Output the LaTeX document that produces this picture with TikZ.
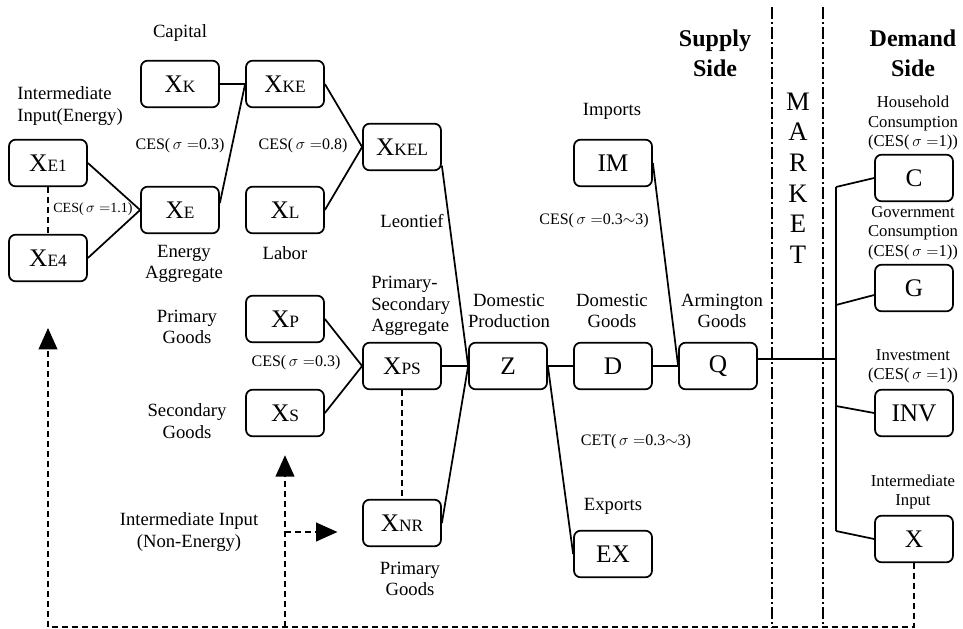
\documentclass[tikz,border=0pt]{standalone}
\usepackage{fontspec}
\setmainfont{Liberation Serif}
\usetikzlibrary{arrows.meta}
\newcommand{\vx}[1]{X{\fontsize{13}{13}\selectfont #1}}

\begin{document}
\begin{tikzpicture}[x=0.75pt, y=-0.75pt, line width=1.3pt,
  box/.style={draw, rounded corners=5pt, minimum width=58.5pt, minimum height=35pt, inner sep=0pt, font=\fontsize{19}{19}\selectfont},
  lab/.style={align=center, font=\fontsize{14}{16}\selectfont},
  ces/.style={align=center, font=\fontsize{12}{14}\selectfont},
  dem/.style={align=center, font=\fontsize{12.5}{14.5}\selectfont},
  side/.style={align=center, font=\bfseries\fontsize{18}{22.5}\selectfont},
  fb/.style={dash pattern=on 4.5pt off 3pt, line width=1.3pt},
  tip/.style={-{Triangle[length=16pt,width=14pt]}},
  sep/.style={line width=1pt, dash pattern=on 9pt off 2.5pt on 1pt off 2.5pt}]
\useasboundingbox (0,0) rectangle (963,628);

% 供给侧的方框
\node[box] (xe1) at (48,163) {\vx{E1}};
\node[box] (xe4) at (48,258) {\vx{E4}};
\node[box] (xk) at (180,84) {\vx{K}};
\node[box] (xe) at (180,210) {\vx{E}};
\node[box] (xke) at (285,84) {\vx{KE}};
\node[box] (xl) at (285,210) {\vx{L}};
\node[box] (xkel) at (402,147) {\vx{KEL}};
\node[box] (xp) at (285,319) {\vx{P}};
\node[box] (xs) at (285,413) {\vx{S}};
\node[box] (xps) at (402,366) {\vx{PS}};
\node[box] (xnr) at (402,523) {\vx{NR}};
\node[box] (z) at (508,366) {Z};
\node[box] (d) at (613,366) {D};
\node[box] (q) at (718,366) {Q};
\node[box] (im) at (613,163) {IM};
\node[box] (ex) at (613,554) {EX};

% 需求侧的方框
\node[box] (c) at (914,178) {C};
\node[box] (g) at (914,288) {G};
\node[box] (inv) at (914,413) {INV};
\node[box] (xx) at (914,539) {X};

% 连线
\draw (xe1.east) -- (xe.west);
\draw (xe4.east) -- (xe.west);
\draw[fb, line width=1.1pt] (xe1.south) -- (xe4.north);
\draw (xk.east) -- (xke.west);
\draw (xe.10) -- (xke.west);
\draw (xke.east) -- (xkel.west);
\draw (xl.east) -- (xkel.west);
\draw (xkel.-25) -- (z.west);
\draw (xp.east) -- (xps.west);
\draw (xs.east) -- (xps.west);
\draw (xps.east) -- (z.west);
\draw (xnr.east) -- (z.west);
\draw[fb, line width=1.1pt] (xps.south) -- (xnr.north);
\draw (z.east) -- (d.west);
\draw (d.east) -- (q.west);
\draw (im.east) -- (q.west);
\draw (z.east) -- (ex.west);

% 市场到需求侧
\coordinate (ttop) at (836,187);
\coordinate (tbot) at (836,531);
\coordinate (tg) at (836,305);
\coordinate (tinv) at (836,406);
\draw (q.10) -- (q.10 -| ttop);
\draw (ttop) -- (tbot);
\draw (ttop) -- (c.west);
\draw (tg) -- (g.190);
\draw (tinv) -- (inv.west);
\draw (tbot) -- (xx.west);

% 市场分隔线
\coordinate (s1a) at (772,7);
\coordinate (s1b) at (772,628);
\coordinate (s2a) at (823,7);
\coordinate (s2b) at (823,628);
\draw[sep] (s1a) -- (s1b);
\draw[sep] (s2a) -- (s2b);

% 中间投入的回路
\coordinate (fbl) at (48,627);
\coordinate (fbtip) at (48,328);
\coordinate (fbm) at (285,627);
\coordinate (fbj) at (285,532);
\draw[fb, tip] (xx.south) |- (fbl) -- (fbtip);
\draw[fb, tip, shorten >=13.5pt] (fbm) -- (xs.south);
\draw[fb, tip, shorten >=18.5pt] (fbj) -- (fbj -| xnr.west);

% 各种标注
\node[lab] (tcap) at (180,33) {Capital};
\node[lab, align=left, anchor=west] (tie) at (12,106) {Intermediate\\Input(Energy)};
\node[ces] (tces1) at (180,146) {CES($\,\sigma=$0.3)};
\node[ces] (tces2) at (303,146) {CES($\,\sigma=$0.8)};
\node[ces, font=\fontsize{10.5}{12}\selectfont] (tces3) at (93,209) {CES($\,\sigma=$1.1)};
\node[lab] (tea) at (184,264) {Energy\\Aggregate};
\node[lab] (tlab) at (285,253) {Labor};
\node[lab] (tleo) at (412,221) {Leontief};
\node[lab, align=left, anchor=west] (tpsa) at (366,306) {Primary-\\Secondary\\Aggregate};
\node[lab] (tpg1) at (187,327) {Primary\\Goods};
\node[ces] (tces4) at (296,363) {CES($\,\sigma=$0.3)};
\node[lab] (tsg) at (187,421) {Secondary\\Goods};
\node[lab] (tine) at (189,532) {Intermediate Input\\(Non-Energy)};
\node[lab] (tpg2) at (410,579) {Primary\\Goods};
\node[lab] (tdp) at (509,311) {Domestic\\Production};
\node[lab] (tdg) at (612,311) {Domestic\\Goods};
\node[lab] (tag) at (722,311) {Armington\\Goods};
\node[lab] (timp) at (612,111) {Imports};
\node[ces] (tces5) at (594,221) {CES($\,\sigma=$0.3$\sim$3)};
\node[ces] (tcet) at (636,442) {CET($\,\sigma=$0.3$\sim$3)};
\node[lab] (texp) at (613,506) {Exports};
\node[side] (tsup) at (715,53) {Supply\\Side};
\node[side] (tdem) at (913,53) {Demand\\Side};
\node[align=center, font=\fontsize{20}{23}\selectfont] (tmkt) at (798,178) {M\\A\\R\\K\\E\\T};
\node[dem] (thh) at (913,123) {Household\\Consumption\\(CES($\,\sigma=$1))};
\node[dem] (tgov) at (913,233) {Government\\Consumption\\(CES($\,\sigma=$1))};
\node[dem] (tinvl) at (913,366) {Investment\\(CES($\,\sigma=$1))};
\node[dem] (tii) at (913,492) {Intermediate\\Input};
\end{tikzpicture}
\end{document}
